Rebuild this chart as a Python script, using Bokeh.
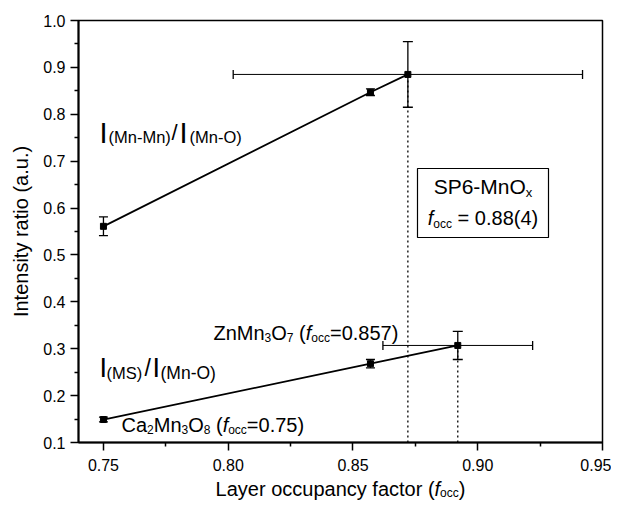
from bokeh.plotting import figure
from bokeh.layouts import column
from bokeh.models import (ColumnDataSource, Whisker, TeeHead, Label, BoxAnnotation,
                          FixedTicker, NumeralTickFormatter, Range1d)
from bokeh.embed import file_html
from bokeh.resources import INLINE

# ---------------- data ----------------
ref_focc = [0.75, 0.857]                 # Ca2Mn3O8, ZnMn3O7
mnmn_ref = [0.561, 0.847]
mnmn_ref_err = [0.02, 0.007]
ms_ref = [0.149, 0.268]
ms_ref_err = [0.005, 0.009]

sp6_focc_mnmn = [0.872]
sp6_mnmn = [0.885]
sp6_mnmn_xerr = [0.07]
sp6_mnmn_yerr = [0.07]

sp6_focc_ms = [0.892]
sp6_ms = [0.307]
sp6_ms_xerr = [0.03]
sp6_ms_yerr = [0.03]

x_ticks = [0.75, 0.80, 0.85, 0.90, 0.95]
x_minor = [0.775, 0.825, 0.875, 0.925]
y_ticks = [0.1, 0.2, 0.3, 0.4, 0.5, 0.6, 0.7, 0.8, 0.9, 1.0]
y_minor = [0.15, 0.25, 0.35, 0.45, 0.55, 0.65, 0.75, 0.85, 0.95]

XR = (0.74, 0.95)
YR = (0.1, 1.0)

FONT = "Liberation Sans"
W_TOTAL = 611
H_MAIN = 478
H_XLAB = 22
BASE_FIX = 7   # labels render a few px below the requested baseline

p = figure(width=W_TOTAL, height=H_MAIN, output_backend="svg", toolbar_location=None,
           x_range=Range1d(*XR), y_range=Range1d(*YR),
           min_border_left=78, min_border_right=9, min_border_top=20, min_border_bottom=36)
p.background_fill_color = "white"
p.border_fill_color = "white"
p.grid.visible = False
p.outline_line_color = "black"
p.outline_line_width = 1.5
p.outline_line_alpha = 1

for ax in (p.xaxis[0], p.yaxis[0]):
    ax.axis_line_width = 2
    ax.major_tick_line_width = 1.5
    ax.minor_tick_line_width = 1.5
    ax.major_tick_in = 0
    ax.major_tick_out = 8
    ax.minor_tick_in = 0
    ax.minor_tick_out = 4
    ax.major_label_text_font = FONT
    ax.major_label_text_font_size = "16px"
    ax.major_label_text_color = "black"
    ax.axis_label_text_font = FONT
    ax.axis_label_text_font_size = "20px"
    ax.axis_label_text_font_style = "normal"
    ax.axis_label_text_color = "black"

p.xaxis[0].ticker = FixedTicker(ticks=x_ticks, minor_ticks=x_minor)
p.yaxis[0].ticker = FixedTicker(ticks=y_ticks, minor_ticks=y_minor)
p.xaxis[0].formatter = NumeralTickFormatter(format="0.00")
p.yaxis[0].formatter = NumeralTickFormatter(format="0.0")
p.xaxis[0].major_label_standoff = 8
p.yaxis[0].major_label_standoff = 5
p.yaxis[0].axis_label = "Intensity ratio (a.u.)"
p.yaxis[0].axis_label_standoff = 8

# ---------------- lines ----------------
p.line(ref_focc + sp6_focc_mnmn, mnmn_ref + sp6_mnmn, line_color="black", line_width=1.8)
p.line(ref_focc + sp6_focc_ms, ms_ref + sp6_ms, line_color="black", line_width=1.8)

# dotted drop lines
p.segment(x0=sp6_focc_mnmn + sp6_focc_ms, y0=[YR[0], YR[0]],
          x1=sp6_focc_mnmn + sp6_focc_ms, y1=sp6_mnmn + sp6_ms,
          line_color="black", line_width=1.3, line_dash="2 3")

# error bars
def yerr(xs, ys, es, cap):
    src = ColumnDataSource(dict(base=xs, lower=[y - e for y, e in zip(ys, es)],
                                upper=[y + e for y, e in zip(ys, es)]))
    p.add_layout(Whisker(source=src, base="base", lower="lower", upper="upper",
                         dimension="height", line_color="black", line_width=1.3,
                         upper_head=TeeHead(size=cap, line_width=1.3, line_color="black"),
                         lower_head=TeeHead(size=cap, line_width=1.3, line_color="black")))

def xerr(xs, ys, es, cap):
    src = ColumnDataSource(dict(base=ys, lower=[x - e for x, e in zip(xs, es)],
                                upper=[x + e for x, e in zip(xs, es)]))
    p.add_layout(Whisker(source=src, base="base", lower="lower", upper="upper",
                         dimension="width", line_color="black", line_width=1.0,
                         upper_head=TeeHead(size=cap, line_width=1.3, line_color="black"),
                         lower_head=TeeHead(size=cap, line_width=1.3, line_color="black")))

yerr(ref_focc, mnmn_ref, mnmn_ref_err, 9)
yerr(ref_focc, ms_ref, ms_ref_err, 9)
yerr(sp6_focc_mnmn, sp6_mnmn, sp6_mnmn_yerr, 10)
yerr(sp6_focc_ms, sp6_ms, sp6_ms_yerr, 10)
xerr(sp6_focc_mnmn, sp6_mnmn, sp6_mnmn_xerr, 9)
xerr(sp6_focc_ms, sp6_ms, sp6_ms_xerr, 9)

p.scatter(ref_focc + sp6_focc_mnmn, mnmn_ref + sp6_mnmn, marker="square", size=6,
          fill_color="black", line_color="black")
p.scatter(ref_focc + sp6_focc_ms, ms_ref + sp6_ms, marker="square", size=6,
          fill_color="black", line_color="black")

# ---------------- text helpers ----------------
W = {' ': 278, '(': 333, ')': 333, '-': 333, '/': 278, '=': 584, '.': 278,
     'C': 722, 'I': 278, 'L': 556, 'M': 833, 'O': 778, 'P': 667, 'S': 667, 'Z': 611,
     'a': 556, 'c': 500, 'e': 556, 'f': 278, 'i': 222, 'n': 556, 'o': 556, 'p': 556,
     'r': 333, 's': 500, 't': 278, 'u': 556, 'x': 500, 'y': 500}

def tw(s, size):
    return sum(W.get(c, 556) for c in s) * size / 1000.0

# image pixel -> data helpers for annotation placement (frame 78..602 x 20..442)
def X(px):
    return XR[0] + (px - 78) / (602 - 78) * (XR[1] - XR[0])

def Y(py):
    return YR[1] - (py - 20) / (442 - 20) * (YR[1] - YR[0])

def rich(fig, xmap, ymap, x_px, y_px, pieces):
    """pieces: (text, size, italic, drop_px[, absolute_x_px])"""
    cur = 0.0
    y_px = y_px - BASE_FIX
    for pc in pieces:
        text, size, italic, dy = pc[:4]
        if len(pc) > 4:
            cur = pc[4] - x_px
        stripped = text.lstrip(" ")
        cur += tw(text[:len(text) - len(stripped)], size)
        fig.add_layout(Label(x=xmap(x_px), y=ymap(y_px), x_units="data", y_units="data",
                             x_offset=cur, y_offset=-dy, text=stripped,
                             text_font=FONT, text_font_size=f"{size}px",
                             text_font_style="italic" if italic else "normal",
                             text_color="black", text_baseline="alphabetic",
                             text_align="left"))
        cur += tw(stripped, size)

def rich_width(pieces):
    return sum(tw(pc[0], pc[1]) for pc in pieces)

# ratio labels
rich(p, X, Y, 99, 139, [("I", 29, False, 0), ("(Mn-Mn)", 16.5, False, 4, 108),
                        ("/", 22, False, 0, 171), ("I", 29, False, 0, 179),
                        ("(Mn-O)", 16.5, False, 4, 189)])
rich(p, X, Y, 99, 374, [("I", 27, False, 0), ("(MS)", 16.5, False, 5, 106),
                        ("/", 23, False, 0, 144), ("I", 27, False, 0, 152),
                        ("(Mn-O)", 17.5, False, 5, 160)])

# compound labels
rich(p, X, Y, 213, 339, [("ZnMn", 20, False, 0), ("3", 12, False, 5), ("O", 20, False, 0),
                         ("7", 12, False, 5), (" (", 20, False, 0), ("f", 20, True, 0),
                         ("occ", 12, False, 5), ("=0.857)", 20, False, 0)])
rich(p, X, Y, 121, 431, [("Ca", 20, False, 0), ("2", 12, False, 5), ("Mn", 20, False, 0),
                         ("3", 12, False, 5), ("O", 20, False, 0), ("8", 12, False, 5),
                         (" (", 20, False, 0), ("f", 20, True, 0), ("occ", 12, False, 5),
                         ("=0.75)", 20, False, 0)])

# SP6 box
p.add_layout(BoxAnnotation(left=X(417), right=X(548), top=Y(168), bottom=Y(237),
                           fill_alpha=0, line_color="black", line_alpha=1.0, line_width=1.2))
l1 = [("SP6-MnO", 21, False, 0), ("x", 13, False, 6)]
l2 = [("f", 20, True, 0), ("occ", 12, False, 6), (" = 0.88(4)", 20, False, 0)]
rich(p, X, Y, 482.5 - rich_width(l1) / 2, 193, l1)
rich(p, X, Y, 482.5 - rich_width(l2) / 2, 224, l2)

# ---------------- x axis title strip (rich text) ----------------
px = figure(width=W_TOTAL, height=H_XLAB, output_backend="svg", toolbar_location=None,
            x_range=Range1d(*XR), y_range=Range1d(0, H_XLAB),
            x_axis_type=None, y_axis_type=None,
            min_border_left=78, min_border_right=9, min_border_top=0, min_border_bottom=0)
px.outline_line_color = None
px.grid.visible = False
px.background_fill_color = "white"
px.border_fill_color = "white"

def YS(v):
    return (H_MAIN + H_XLAB) - v

xl = [("Layer occupancy factor (", 20, False, 0), ("f", 20, True, 0),
      ("occ", 12, False, 4), (")", 20, False, 0)]
rich(px, X, YS, 340 - rich_width(xl) / 2, 495, xl)

layout = column(p, px, spacing=0)
open("out.html", "w").write(file_html(layout, INLINE))
